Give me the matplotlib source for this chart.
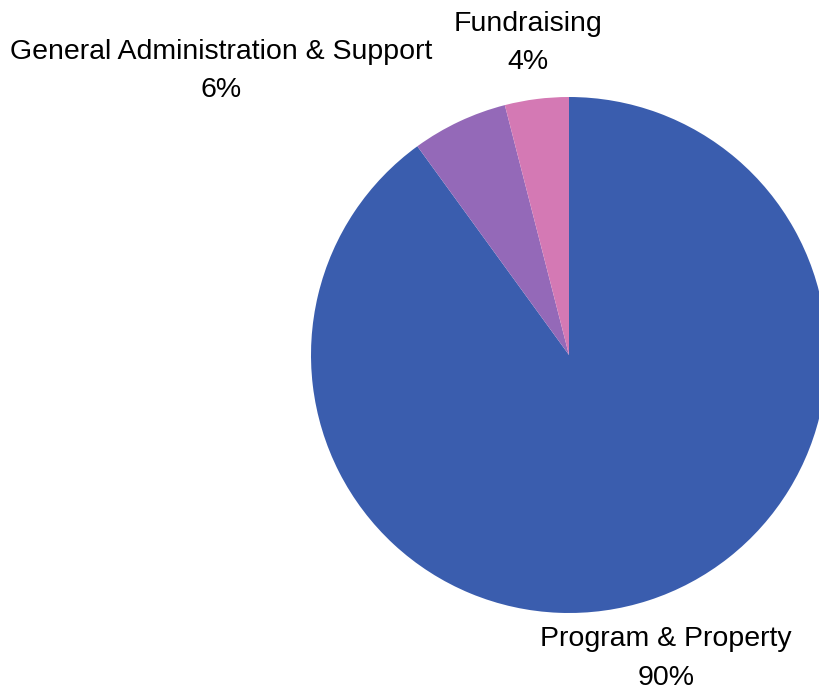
import matplotlib
matplotlib.use("Agg")
import matplotlib.pyplot as plt

categories = ["Program & Property", "General Administration & Support", "Fundraising"]
values = [90, 6, 4]
pct_labels = ["90%", "6%", "4%"]
colors = ["#3A5DAE", "#9469B8", "#D479B4"]

W, H = 819, 692
cx, cy, R = 569, 355, 258  # pixel centre / radius

fig = plt.figure(figsize=(W / 100, H / 100), dpi=100)
ax = fig.add_axes([0, 0, 1, 1])
ax.pie(values, colors=colors, startangle=90, counterclock=False,
       radius=1.0, center=(0, 0), wedgeprops=dict(linewidth=0))
ax.set_xlim(-cx / R, (W - cx) / R)
ax.set_ylim((cy - H) / R, cy / R)
ax.set_aspect("auto")
ax.axis("off")

# label positions in pixels (name line, pct line)
label_pos = {
    "Program & Property": (666, 639, 678),
    "General Administration & Support": (221, 52, 90),
    "Fundraising": (528, 24, 62),
}
font = dict(family=["Liberation Sans", "DejaVu Sans"], fontsize=20.5, color="#000000")
for cat, pct in zip(categories, pct_labels):
    x, y1, y2 = label_pos[cat]
    fig.text(x / W, 1 - y1 / H, cat, ha="center", va="center", **font)
    fig.text(x / W, 1 - y2 / H, pct, ha="center", va="center", **font)

fig.savefig("out.png", dpi=100)
